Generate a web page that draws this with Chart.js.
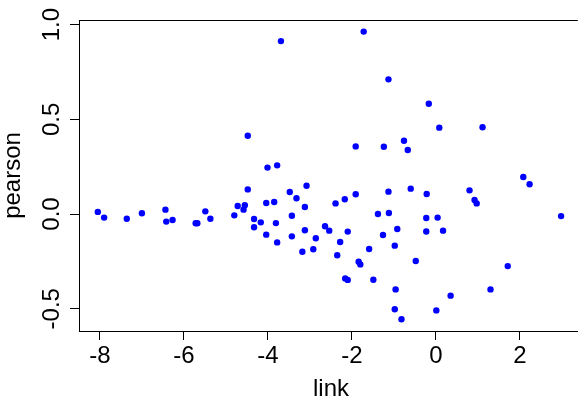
<!DOCTYPE html>
<html>
<head>
<meta charset="utf-8">
<script src="https://cdn.jsdelivr.net/npm/chart.js@4.4.1/dist/chart.umd.min.js"></script>
<style>
  html, body { margin: 0; padding: 0; background: #fff; }
  #wrap { width: 581px; height: 399px; }
</style>
</head>
<body>
<div id="wrap"><canvas id="myChart" width="581" height="399"></canvas></div>
<script>
// Values
const linkValues = [
  -8.05, -7.90, -7.36, -7.00, -6.44, -6.42, -6.27, -5.72, -5.68, -5.49,
  -5.37, -4.80, -4.72, -4.55, -4.58, -4.48, -4.48, -4.33, -4.33, -4.17,
  -4.04, -4.01, -3.78, -3.69, -3.85, -3.81, -4.04, -3.78, -3.48, -3.32,
  -3.08, -3.12, -3.43, -3.43, -3.12, -2.86, -2.92, -3.18, -2.64, -2.54,
  -2.39, -2.17, -1.91, -1.91, -2.10, -2.28, -2.35, -1.84, -1.80, -2.16,
  -2.10, -1.59, -1.49, -1.72, -1.13, -1.24, -1.13, -1.38, -1.12, -1.26,
  -0.92, -0.98, -0.96, -0.98, -0.82, -0.76, -0.67, -0.60, -0.48, -0.22,
  -0.23, -0.23, -0.17, 0.04, 0.08, 0.17, 0.01, 0.35, 0.80, 0.92,
  0.97, 1.11, 1.30, 1.71, 2.08, 2.23, 2.98
];
const pearsonValues = [
  0.011, -0.019, -0.025, 0.004, 0.023, -0.040, -0.032, -0.049, -0.049, 0.014,
  -0.025, -0.007, 0.042, 0.046, 0.023, 0.130, 0.413, -0.026, -0.070, -0.044,
  0.058, 0.245, 0.257, 0.913, 0.063, -0.048, -0.109, -0.150, 0.116, 0.083,
  0.149, 0.037, -0.009, -0.118, -0.086, -0.128, -0.186, -0.199, -0.065, -0.088,
  0.056, 0.078, 0.104, 0.357, -0.093, -0.148, -0.218, -0.252, -0.266, -0.340,
  -0.348, -0.185, -0.347, 0.963, 0.711, 0.355, 0.118, 0.000, 0.005, -0.111,
  -0.079, -0.167, -0.398, -0.503, -0.556, 0.387, 0.338, 0.134, -0.248, 0.106,
  -0.021, -0.092, 0.582, -0.019, 0.456, -0.088, -0.509, -0.431, 0.125, 0.074,
  0.056, 0.458, -0.398, -0.275, 0.195, 0.157, -0.011
];
const xTicks = [-8, -6, -4, -2, 0, 2];
const xTickLabels = ['-8', '-6', '-4', '-2', '0', '2'];
const yTicks = [-0.5, 0, 0.5, 1.0];
const yTickLabels = ['-0.5', '0.0', '0.5', '1.0'];
const xTitle = 'link';
const yTitle = 'pearson';

const points = linkValues.map((v, i) => ({ x: v, y: pearsonValues[i] }));
const labelFont = '24px "Liberation Sans", Arial, Helvetica, sans-serif';

// R-style box top, tick labels and axis titles
const rAxes = {
  id: 'rAxes',
  afterDraw(chart) {
    const ctx = chart.ctx;
    const area = chart.chartArea;
    const xs = chart.scales.x;
    const ys = chart.scales.y;
    ctx.save();
    ctx.strokeStyle = '#000';
    ctx.lineWidth = 1;
    ctx.beginPath();
    ctx.moveTo(area.left, Math.round(area.top) + 0.5);
    ctx.lineTo(area.right, Math.round(area.top) + 0.5);
    ctx.stroke();

    ctx.fillStyle = '#000';
    ctx.font = labelFont;
    ctx.textAlign = 'center';
    ctx.textBaseline = 'alphabetic';
    xTicks.forEach((v, i) => {
      ctx.fillText(xTickLabels[i], xs.getPixelForValue(v), 363);
    });
    yTicks.forEach((v, i) => {
      ctx.save();
      ctx.translate(59, ys.getPixelForValue(v));
      ctx.rotate(-Math.PI / 2);
      ctx.fillText(yTickLabels[i], 0, 0);
      ctx.restore();
    });
    ctx.fillText(xTitle, 331, 396);
    ctx.save();
    ctx.translate(20, (area.top + area.bottom) / 2);
    ctx.rotate(-Math.PI / 2);
    ctx.fillText(yTitle, 0, 0);
    ctx.restore();
    ctx.restore();
  }
};

const ctx = document.getElementById('myChart').getContext('2d');
const myChart = new Chart(ctx, {
  type: 'scatter',
  data: {
    datasets: [{
      label: 'pearson',
      data: points,
      backgroundColor: '#0000ff',
      borderWidth: 0,
      pointRadius: 3.2,
      pointHoverRadius: 3.2
    }]
  },
  options: {
    responsive: false,
    animation: false,
    devicePixelRatio: 1,
    layout: { padding: { top: 20, left: 0, right: 0, bottom: 0 } },
    plugins: {
      legend: { display: false },
      tooltip: { enabled: false }
    },
    scales: {
      x: {
        type: 'linear',
        min: -8.498,
        max: 3.378,
        afterFit: (s) => { s.height = 68; },
        afterBuildTicks: (s) => { s.ticks = xTicks.map(v => ({ value: v })); },
        ticks: { display: false },
        grid: { display: true, drawOnChartArea: false, drawTicks: true, tickLength: 9, color: '#000' },
        border: { display: true, color: '#000', width: 1 }
      },
      y: {
        type: 'linear',
        min: -0.6177,
        max: 1.0243,
        afterFit: (s) => { s.width = 79; },
        afterBuildTicks: (s) => { s.ticks = yTicks.map(v => ({ value: v })); },
        ticks: { display: false },
        grid: { display: true, drawOnChartArea: false, drawTicks: true, tickLength: 9, color: '#000' },
        border: { display: true, color: '#000', width: 1 }
      }
    }
  },
  plugins: [rAxes]
});
</script>
</body>
</html>
